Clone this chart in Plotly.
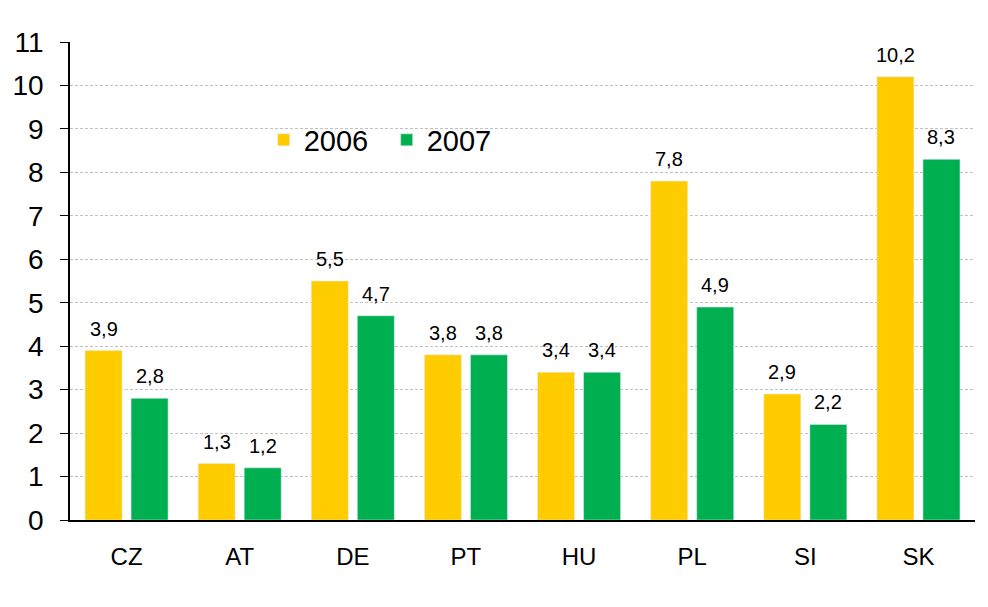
import plotly.graph_objects as go

categories = ["CZ", "AT", "DE", "PT", "HU", "PL", "SI", "SK"]
values_2006 = [3.9, 1.3, 5.5, 3.8, 3.4, 7.8, 2.9, 10.2]
values_2007 = [2.8, 1.2, 4.7, 3.8, 3.4, 4.9, 2.2, 8.3]
y_ticks = list(range(0, 12))

def fmt(v):
    return f"{v:.1f}".replace(".", ",")

fig = go.Figure()
fig.add_trace(go.Bar(name="2006", x=categories, y=values_2006, marker_color="#FFCC00"))
fig.add_trace(go.Bar(name="2007", x=categories, y=values_2007, marker_color="#00B050"))

for vals, shift in ((values_2006, -23), (values_2007, 23)):
    for c, v in zip(categories, vals):
        fig.add_annotation(x=c, y=v, text=fmt(v), showarrow=False,
                           xshift=shift, yshift=9, yanchor="bottom",
                           font=dict(size=20, color="black"))

# page body has an 8px default margin -> compensate
fig.update_layout(
    width=980, height=599,
    margin=dict(l=62, r=13, t=34, b=87),
    plot_bgcolor="white", paper_bgcolor="white",
    font=dict(family="Liberation Sans, Arial, sans-serif", color="black"),
    barmode="group", bargap=0.186, bargroupgap=0.196,
    showlegend=True,
    legend=dict(orientation="h", x=0.214, y=0.795, xanchor="left", yanchor="middle",
                font=dict(size=29), bgcolor="rgba(0,0,0,0)",
                traceorder="normal", entrywidth=78, entrywidthmode="pixels"),
)
fig.update_yaxes(
    range=[0, 11], tickvals=y_ticks, ticktext=[str(t) for t in y_ticks],
    showgrid=True, gridcolor="#c0c0c0", griddash="3px,2px", gridwidth=1,
    showline=True, linecolor="black", linewidth=1.5,
    ticks="outside", ticklen=8, tickcolor="black",
    tickfont=dict(size=28), zeroline=False, ticklabelstandoff=11,
    automargin=False,
)
fig.update_xaxes(
    showline=True, linecolor="black", linewidth=1.5,
    ticks="", tickfont=dict(size=24), ticklabelstandoff=14,
    automargin=False,
)
fig.write_html("out.html")
